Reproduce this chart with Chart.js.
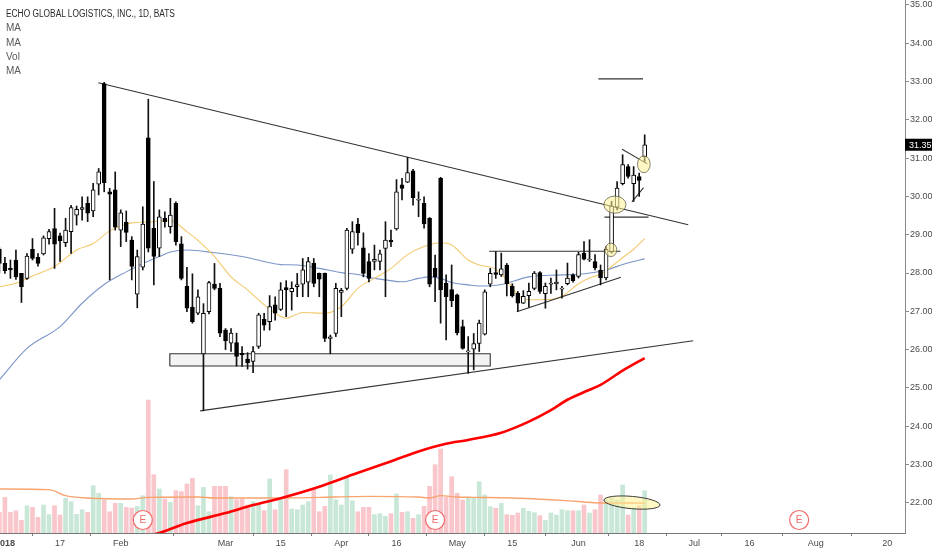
<!DOCTYPE html>
<html>
<head>
<meta charset="utf-8">
<script src="https://cdn.jsdelivr.net/npm/chart.js@4.4.0/dist/chart.umd.min.js"></script>
<style>
  html, body { margin: 0; padding: 0; background: #fff; }
  #wrap { position: relative; width: 932px; height: 550px; }
  #legend { position: absolute; left: 6px; top: 7px; font-family: 'Liberation Sans', Arial, sans-serif;
            font-size: 10px; line-height: 14.25px; color: #5a5a5a; pointer-events: none; }
  #title { color: #2b2b2b; white-space: nowrap; display: inline-block; transform-origin: 0 50%; }
</style>
</head>
<body>
<div id="wrap">
  <canvas id="chart" width="932" height="550"></canvas>
  <div id="legend">
    <div><span id="title">ECHO GLOBAL LOGISTICS, INC., 1D, BATS</span></div>
    <div>MA</div>
    <div>MA</div>
    <div>Vol</div>
    <div>MA</div>
  </div>
</div>
<script>
// trading sessions shown (session -1 = 2017-12-29, session 0 = 2018-01-02)
const sessionMonths = ['2017-12', '2018-01', '2018-02', '2018-03', '2018-04', '2018-05', '2018-06'];
const sessionDays = [
  [29],
  [2, 3, 4, 5, 8, 9, 10, 11, 12, 16, 17, 18, 19, 22, 23, 24, 25, 26, 29, 30, 31],
  [1, 2, 5, 6, 7, 8, 9, 12, 13, 14, 15, 16, 20, 21, 22, 23, 26, 27, 28],
  [1, 2, 5, 6, 7, 8, 9, 12, 13, 14, 15, 16, 19, 20, 21, 22, 23, 26, 27, 28, 29],
  [2, 3, 4, 5, 6, 9, 10, 11, 12, 13, 16, 17, 18, 19, 20, 23, 24, 25, 26, 27, 30],
  [1, 2, 3, 4, 7, 8, 9, 10, 11, 14, 15, 16, 17, 18, 21, 22, 23, 24, 25, 29, 30, 31],
  [1, 4, 5, 6, 7, 8, 11, 12, 13, 14, 15, 18, 19]
];
const firstSession = -1;

const opens = [
  28.62, 28.25, 28.12, 28.34, 27.99, 27.86, 28.62, 28.41, 28.50, 28.90,
  29.16, 28.97, 28.79, 29.08, 29.51, 29.66, 29.82, 29.62, 30.32, 32.95,
  30.12, 30.17, 29.12, 29.33, 28.86, 27.45, 28.15, 31.53, 29.17, 28.65,
  29.43, 29.21, 29.82, 28.76, 27.66, 27.11, 26.95, 25.89, 26.99, 27.71,
  27.60, 26.51, 26.17, 26.18, 25.90, 25.75, 25.69, 26.08, 26.79, 26.73,
  27.17, 27.05, 27.62, 27.51, 27.64, 27.71, 27.76, 28.25, 27.99, 27.99,
  26.29, 26.42, 27.49, 27.60, 28.62, 29.28, 28.66, 28.30, 28.30, 28.30,
  28.64, 28.86, 29.15, 30.30, 30.37, 30.67, 29.90, 29.82, 29.43, 28.12,
  30.47, 27.73, 27.57, 27.43, 26.60, 25.94, 26.01, 26.16, 26.40, 27.71,
  28.01, 27.95, 28.21, 27.65, 27.47, 27.21, 27.41, 27.60, 28.01, 27.46,
  27.71, 27.72, 27.58, 27.72, 27.95, 27.91, 28.52, 28.34, 28.30, 28.07,
  27.87, 28.56, 29.72, 30.33, 30.78, 30.33, 30.52, 31.04
];
const highs = [
  28.66, 28.41, 28.34, 28.60, 27.99, 28.51, 28.90, 28.51, 28.97, 29.14,
  29.69, 29.04, 29.43, 29.77, 29.75, 29.99, 29.99, 30.34, 30.73, 32.98,
  30.21, 30.64, 29.65, 29.62, 28.95, 28.60, 29.73, 32.54, 30.39, 29.65,
  29.60, 29.95, 29.86, 28.95, 28.15, 27.98, 27.56, 27.20, 27.78, 28.25,
  27.73, 26.55, 26.55, 26.43, 26.08, 25.92, 26.08, 26.95, 26.95, 27.41,
  27.38, 27.75, 27.80, 27.77, 27.99, 28.38, 28.41, 28.38, 28.00, 28.00,
  26.38, 27.73, 27.60, 29.17, 29.34, 29.43, 29.05, 28.51, 28.73, 28.60,
  29.34, 29.12, 30.44, 30.47, 31.02, 30.71, 30.12, 29.99, 29.45, 28.47,
  30.50, 27.95, 28.21, 27.45, 26.77, 26.34, 26.42, 26.77, 27.56, 28.12,
  28.56, 28.52, 28.25, 27.72, 27.52, 27.54, 27.74, 28.04, 28.04, 27.74,
  27.87, 28.08, 27.65, 28.26, 27.98, 28.54, 28.82, 28.87, 28.48, 28.21,
  28.69, 29.87, 30.39, 31.09, 30.83, 30.78, 30.61, 31.61
];
const lows = [
  28.00, 27.99, 27.86, 27.83, 27.23, 27.83, 28.34, 28.18, 28.47, 28.75,
  28.12, 28.30, 28.69, 28.51, 29.25, 29.38, 29.34, 29.47, 30.04, 30.12,
  27.82, 29.12, 28.69, 28.82, 27.82, 27.09, 28.08, 28.55, 27.69, 28.43,
  29.20, 29.04, 28.73, 27.82, 26.99, 26.69, 26.91, 24.40, 26.93, 27.56,
  26.34, 26.00, 25.95, 25.57, 25.56, 25.49, 25.40, 26.03, 26.51, 26.51,
  26.77, 27.02, 26.86, 27.03, 27.38, 27.38, 27.38, 27.64, 27.38, 26.21,
  25.89, 26.34, 26.86, 27.56, 28.51, 28.73, 27.90, 27.77, 28.08, 28.08,
  27.38, 28.69, 29.12, 29.91, 30.36, 29.77, 29.47, 29.17, 27.64, 27.25,
  26.69, 26.25, 27.12, 26.38, 26.01, 25.38, 25.47, 25.95, 26.38, 27.64,
  27.86, 27.91, 27.40, 27.37, 27.00, 27.20, 27.11, 27.56, 27.47, 27.08,
  27.47, 27.56, 27.34, 27.69, 27.76, 27.87, 28.34, 28.30, 28.08, 27.69,
  27.82, 28.52, 29.65, 30.30, 30.48, 29.87, 30.00, 30.91
];
const closes = [
  28.25, 28.06, 28.08, 27.90, 27.64, 28.44, 28.38, 28.25, 28.92, 29.08,
  28.75, 28.84, 29.12, 29.71, 29.66, 29.71, 29.56, 30.17, 30.64, 30.36,
  30.06, 29.20, 29.57, 29.06, 28.17, 28.43, 29.28, 28.65, 28.43, 29.47,
  29.34, 29.51, 28.82, 27.86, 27.08, 26.73, 27.38, 26.95, 27.75, 27.60,
  26.43, 26.23, 26.43, 25.82, 25.86, 25.66, 25.95, 26.91, 26.64, 27.12,
  26.95, 27.56, 27.56, 27.60, 27.70, 28.08, 28.30, 27.73, 27.84, 26.29,
  26.33, 27.60, 27.55, 29.12, 29.08, 29.05, 27.99, 27.86, 28.36, 28.50,
  28.86, 28.81, 30.12, 30.21, 30.62, 29.97, 29.92, 29.28, 27.71, 27.90,
  27.56, 27.38, 27.28, 26.44, 26.03, 25.97, 26.16, 26.69, 27.51, 27.99,
  27.96, 28.11, 27.72, 27.40, 27.21, 27.39, 27.52, 28.00, 27.52, 27.65,
  27.74, 27.76, 27.60, 27.87, 27.80, 28.48, 28.36, 28.36, 28.13, 27.87,
  28.62, 29.75, 30.22, 30.83, 30.52, 30.56, 30.42, 31.35
];
// volume, thousands of shares
const volumes = [
  207, 357, 207, 223, 127, 273, 257, 157, 280, 183,
  273, 180, 347, 313, 187, 233, 207, 473, 397, 330,
  213, 297, 297, 257, 250, 267, 373, 1330, 583, 440,
  340, 307, 423, 413, 490, 547, 273, 457, 213, 467,
  467, 467, 363, 333, 340, 280, 313, 290, 223, 540,
  233, 340, 633, 240, 233, 280, 313, 447, 213, 267,
  580, 333, 280, 557, 323, 213, 257, 257, 183, 193,
  167, 193, 390, 207, 213, 147, 183, 267, 467, 683,
  840, 357, 563, 397, 330, 347, 357, 513, 380, 263,
  247, 297, 183, 177, 200, 247, 217, 203, 173, 127,
  200, 180, 233, 223, 223, 223, 280, 200, 233, 380,
  333, 350, 333, 480, 180, 250, 273, 423
];

// moving averages (session, value)
const maFastAt = [-1, 2, 5, 9, 13, 16, 19, 21, 23, 26, 28, 30, 33, 35, 38, 41, 44, 47, 49, 51, 54, 58, 61, 64, 67, 70, 73, 76, 79, 81, 84, 86, 89, 91, 93, 95, 98, 101, 104, 106, 108, 110, 112, 114, 116];
const maFast = [27.64, 27.73, 27.92, 28.17, 28.60, 28.77, 29.10, 29.23, 29.31, 29.33, 29.36, 29.37, 29.08, 28.85, 28.43, 27.90, 27.56, 27.17, 26.95, 26.82, 26.97, 26.95, 27.12, 27.60, 27.86, 28.12, 28.48, 28.69, 28.79, 28.73, 28.34, 28.21, 28.10, 27.82, 27.43, 27.30, 27.30, 27.39, 27.72, 27.87, 27.97, 28.17, 28.40, 28.62, 28.90];
const maSlowAt = [-1, 4, 10, 14, 18, 22, 25, 28, 30, 33, 38, 43, 47, 50, 53, 57, 61, 64, 67, 69, 72, 75, 77, 79, 81, 84, 86, 90, 95, 101, 105, 109, 112, 114, 116];
const maSlow = [25.21, 26.03, 26.60, 27.21, 27.70, 28.03, 28.25, 28.43, 28.55, 28.60, 28.53, 28.43, 28.30, 28.22, 28.21, 28.12, 28.01, 27.96, 27.86, 27.82, 27.77, 27.86, 27.90, 27.86, 27.75, 27.69, 27.66, 27.70, 27.90, 27.95, 27.98, 28.08, 28.22, 28.30, 28.37];
const maLongAt = [24, 28, 33, 40, 45, 50, 57, 63, 69, 75, 80, 84, 90, 95, 99, 102, 106, 108, 112, 116];
const maLong = [21.08, 21.21, 21.47, 21.73, 21.94, 22.12, 22.42, 22.73, 23.03, 23.34, 23.54, 23.64, 23.83, 24.12, 24.42, 24.69, 24.95, 25.08, 25.45, 25.78];
const volMaAt = [-1, 8, 11, 15, 23, 26, 35, 38, 47, 60, 66, 75, 77, 79, 82, 85, 92, 101, 109, 116];
const volMa = [440, 433, 373, 350, 340, 357, 360, 350, 350, 360, 367, 360, 350, 373, 360, 357, 350, 327, 300, 300];

// drawings, in [session, price]
const trendUpper = [[16.94, 32.97], [123.9, 29.26]];
const trendLower = [[35.4, 24.40], [124.8, 26.23]];
const wedgeLower = [[92.8, 26.99], [111.7, 27.89]];
const flagUpper = [[111.9, 31.23], [116.5, 30.85]];
const flagLower = [[113.7, 29.86], [115.8, 30.23]];
const levelResistance = [[87.8, 28.57], [111.6, 28.57]];
const levelBreakout = [[108.7, 29.46], [116.7, 29.46]];
const levelTarget = [[107.6, 33.07], [115.7, 33.07]];
const supportZone = { from: 29.9, to: 88, low: 25.57, high: 25.89 };
// highlighted spots: [fromSession, toSession, low, high]
const priceHighlights = [[108.6, 112.6, 29.56, 30.01], [108.8, 110.95, 28.43, 28.78], [114.7, 117.0, 30.62, 31.06]];
const volumeHighlights = [[108.6, 118.8, 243, 366]];
const earningsAt = [25, 78, 144];

const axisTicks = [[0, '2018'], [10, '17'], [21, 'Feb'], [40, 'Mar'], [50, '15'], [61, 'Apr'], [71, '16'], [82, 'May'], [92, '15'], [104, 'Jun'], [115, '18'], [125, 'Jul'], [135, '16'], [147, 'Aug'], [160, '20']];
const priceTicks = [22, 23, 24, 25, 26, 27, 28, 29, 30, 31, 32, 33, 34, 35];

// ---------------------------------------------------------------
const dates = [];
sessionMonths.forEach((m, i) => sessionDays[i].forEach(d => dates.push(m + '-' + String(d).padStart(2, '0'))));
const sessions = dates.map((_, k) => k + firstSession);
const isUp = closes.map((c, k) => c >= opens[k]);
const tickLabel = Object.fromEntries(axisTicks);
const FONT = "'Liberation Sans', Arial, sans-serif";

const pts = (xs, ys) => xs.map((x, i) => ({ x: x, y: ys[i] }));
const seg = p => p.map(q => ({ x: q[0], y: q[1] }));
const line = (data, color, width, order, extra) => Object.assign({
  type: 'line', data: data, borderColor: color, borderWidth: width, pointRadius: 0,
  fill: false, yAxisID: 'y', order: order
}, extra || {});
const noPad = s => { s.paddingLeft = 0; s.paddingRight = 0; s.paddingTop = 0; s.paddingBottom = 0; };

const highlightPlugin = {
  id: 'highlights',
  afterDatasetsDraw(chart) {
    const { ctx, scales } = chart;
    const draw = (h, ys, tilt, stroke) => {
      const x0 = scales.x.getPixelForValue(h[0]), x1 = scales.x.getPixelForValue(h[1]);
      const y0 = ys.getPixelForValue(h[2]), y1 = ys.getPixelForValue(h[3]);
      ctx.beginPath();
      ctx.ellipse((x0 + x1) / 2, (y0 + y1) / 2, Math.abs(x1 - x0) / 2, Math.abs(y1 - y0) / 2, tilt, 0, Math.PI * 2);
      ctx.fillStyle = 'rgba(255, 243, 150, 0.55)';
      ctx.fill();
      ctx.strokeStyle = stroke;
      ctx.lineWidth = 1;
      ctx.stroke();
    };
    ctx.save();
    priceHighlights.forEach(h => draw(h, scales.y, 0, 'rgba(90, 90, 70, 0.75)'));
    volumeHighlights.forEach(h => draw(h, scales.v, 0.09, 'rgba(40, 40, 40, 0.9)'));
    ctx.restore();
  }
};

const earningsPlugin = {
  id: 'earnings',
  afterDatasetsDraw(chart) {
    const { ctx, chartArea, scales } = chart;
    ctx.save();
    earningsAt.forEach(s => {
      const px = scales.x.getPixelForValue(s), py = chartArea.bottom - 13;
      ctx.beginPath();
      ctx.arc(px, py, 9.5, 0, Math.PI * 2);
      ctx.fillStyle = '#fff';
      ctx.fill();
      ctx.strokeStyle = '#f26b6b';
      ctx.lineWidth = 1.2;
      ctx.stroke();
      ctx.fillStyle = '#f26b6b';
      ctx.font = '10px ' + FONT;
      ctx.textAlign = 'center';
      ctx.textBaseline = 'middle';
      ctx.fillText('E', px, py + 0.5);
    });
    ctx.restore();
  }
};

const lastPricePlugin = {
  id: 'lastPrice',
  afterDraw(chart) {
    const { ctx, chartArea, scales } = chart;
    const last = closes[closes.length - 1];
    const py = scales.y.getPixelForValue(last);
    ctx.save();
    ctx.fillStyle = '#000';
    ctx.fillRect(chartArea.right, py - 6, chart.width - chartArea.right, 12);
    ctx.fillStyle = '#fff';
    ctx.font = '9px ' + FONT;
    ctx.textBaseline = 'middle';
    ctx.fillText(last.toFixed(2), chartArea.right + 4, py + 0.5);
    ctx.restore();
  }
};

new Chart(document.getElementById('chart'), {
  type: 'bar',
  data: {
    datasets: [
      {
        label: 'Bodies',
        data: sessions.map((s, k) => ({ x: s, y: [opens[k], closes[k]] })),
        backgroundColor: isUp.map(u => u ? '#ffffff' : '#000000'),
        borderColor: '#000000',
        borderWidth: 1,
        borderSkipped: false,
        minBarLength: 1,
        barThickness: 4,
        grouped: false,
        yAxisID: 'y',
        order: 1
      },
      {
        label: 'Wicks',
        data: sessions.map((s, k) => ({ x: s, y: [lows[k], highs[k]] })),
        backgroundColor: '#111111',
        barThickness: 1,
        grouped: false,
        yAxisID: 'y',
        order: 2
      },
      line(seg(trendUpper), '#333', 1.1, 3),
      line(seg(trendLower), '#333', 1.1, 3),
      line(seg(wedgeLower), '#333', 1.1, 3),
      line(seg(flagUpper), '#333', 1.1, 3),
      line(seg(flagLower), '#333', 1.1, 3),
      line(seg(levelResistance), '#333', 1.1, 3),
      line(seg(levelBreakout), '#333', 1.1, 3),
      line(seg(levelTarget), '#333', 1.1, 3),
      line(pts(maFastAt, maFast), '#f3c96e', 1.1, 4, { cubicInterpolationMode: 'monotone' }),
      line(pts(maSlowAt, maSlow), '#7b95c9', 1.1, 5, { cubicInterpolationMode: 'monotone' }),
      line(pts(maLongAt, maLong), '#ff0000', 2.6, 6, { cubicInterpolationMode: 'monotone' }),
      line([
        { x: supportZone.from, y: supportZone.low }, { x: supportZone.from, y: supportZone.high },
        { x: supportZone.to, y: supportZone.high }, { x: supportZone.to, y: supportZone.low },
        { x: supportZone.from, y: supportZone.low }
      ], '#333', 1.1, 7),
      line([{ x: supportZone.from, y: supportZone.high }, { x: supportZone.to, y: supportZone.high }],
        'rgba(0,0,0,0)', 0, 8, { fill: { value: supportZone.low }, backgroundColor: '#f3f3f3' }),
      line(pts(volMaAt, volMa), '#f8a46f', 1.3, 9, { yAxisID: 'v', cubicInterpolationMode: 'monotone' }),
      {
        label: 'Volume',
        data: sessions.map((s, k) => ({ x: s, y: volumes[k] })),
        backgroundColor: isUp.map(u => u ? '#c8e7d7' : '#f8c6cb'),
        barThickness: 4,
        grouped: false,
        yAxisID: 'v',
        order: 10
      }
    ]
  },
  options: {
    responsive: false,
    animation: false,
    events: [],
    layout: { padding: 0, autoPadding: false },
    plugins: { legend: { display: false }, tooltip: { enabled: false } },
    scales: {
      x: {
        type: 'linear',
        position: 'bottom',
        min: -0.89,
        max: 163.2,
        offset: false,
        bounds: 'data',
        grid: { drawOnChartArea: false, drawTicks: true, tickLength: 3, color: '#777' },
        border: { display: true, color: '#777' },
        ticks: {
          autoSkip: false,
          maxRotation: 0,
          padding: 2,
          color: '#4a4a4a',
          font: ctx => ({ family: FONT, size: 9, weight: ctx.tick && ctx.tick.value === 0 ? 'bold' : 'normal' }),
          callback: v => tickLabel[v] || ''
        },
        afterBuildTicks: s => { s.ticks = axisTicks.map(t => ({ value: t[0] })); },
        afterFit: s => { s.height = 17; noPad(s); }
      },
      y: {
        type: 'linear',
        position: 'right',
        min: 21.21,
        max: 35.13,
        bounds: 'data',
        grid: { drawOnChartArea: false, drawTicks: true, tickLength: 4, color: '#8a8a8a' },
        border: { display: true, color: '#8a8a8a' },
        ticks: { padding: 1, color: '#4a4a4a', font: { family: FONT, size: 9 }, callback: v => v.toFixed(2) },
        afterBuildTicks: s => { s.ticks = priceTicks.map(v => ({ value: v })); },
        afterFit: s => { s.width = 27; noPad(s); }
      },
      v: { type: 'linear', display: false, min: 0, max: 5330 }
    }
  },
  plugins: [highlightPlugin, earningsPlugin, lastPricePlugin]
});

const title = document.getElementById('title');
title.style.transform = 'scaleX(' + (169 / title.getBoundingClientRect().width).toFixed(3) + ')';
</script>
</body>
</html>
